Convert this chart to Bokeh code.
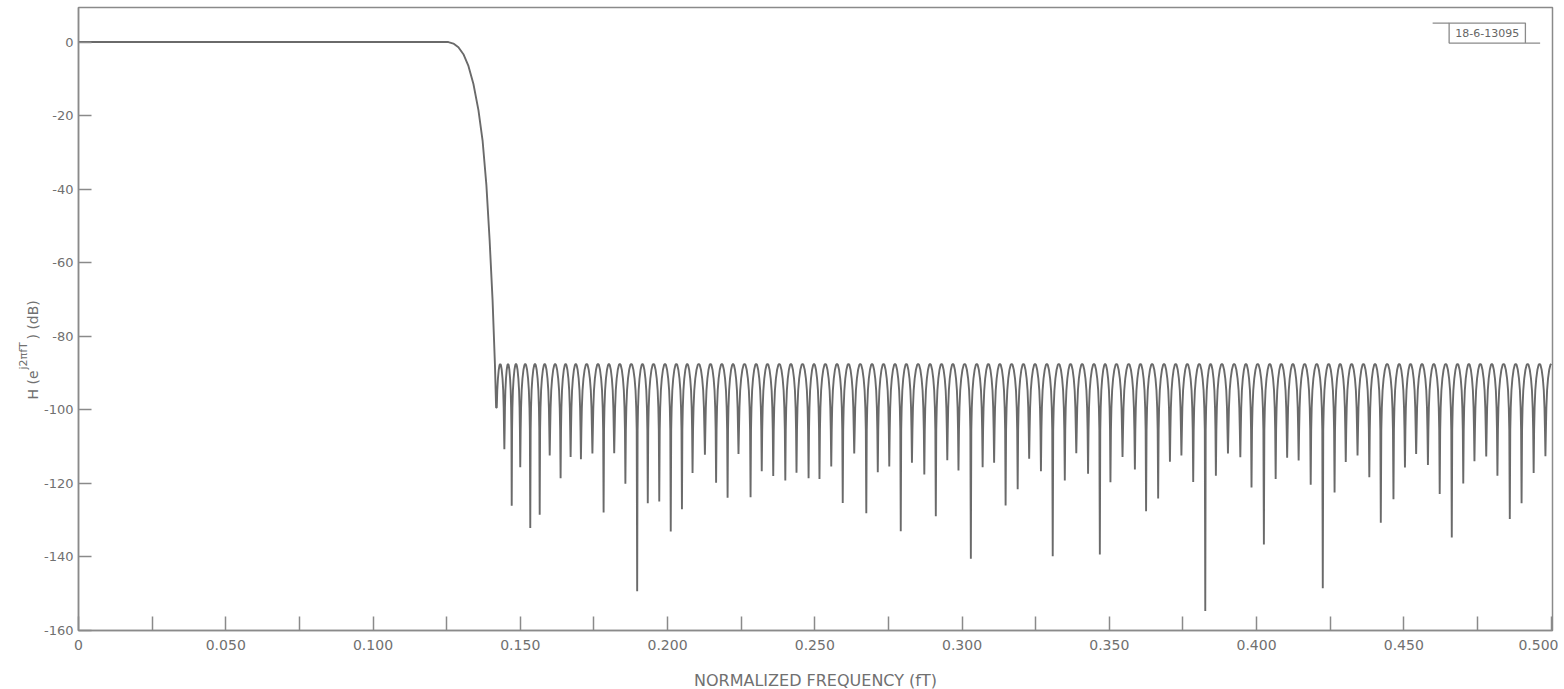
from bokeh.plotting import figure
from bokeh.models import FixedTicker, Label, Range1d
from bokeh.layouts import row
from bokeh.embed import file_html
from bokeh.resources import INLINE

# ---------------- data ----------------
passband_f = [0.0, 0.1256]
passband_db = [0.0, 0.0]

transition_f = [0.1256, 0.1273, 0.1290, 0.1307, 0.1324, 0.1341, 0.1358,
                0.1372, 0.1385, 0.1396, 0.1406, 0.1414]
transition_db = [0.0, -0.4, -1.4, -3.3, -6.5, -11.4, -18.5,
                 -26.7, -38.9, -53.9, -70.2, -87.6]

stop_peak_db = -87.5

null_f = [0.1418, 0.1446, 0.1471, 0.1500, 0.1534, 0.1566, 0.1600, 0.1637,
          0.1671, 0.1706, 0.1745, 0.1783, 0.1819, 0.1857, 0.1897, 0.1933,
          0.1972, 0.2011, 0.2049, 0.2085, 0.2127, 0.2165, 0.2204, 0.2241,
          0.2282, 0.2320, 0.2359, 0.2400, 0.2438, 0.2479, 0.2516, 0.2556,
          0.2595, 0.2634, 0.2675, 0.2714, 0.2753, 0.2792, 0.2830, 0.2872,
          0.2911, 0.2950, 0.2988, 0.3030, 0.3070, 0.3109, 0.3148, 0.3189,
          0.3228, 0.3268, 0.3308, 0.3349, 0.3388, 0.3428, 0.3468, 0.3504,
          0.3545, 0.3587, 0.3625, 0.3666, 0.3706, 0.3745, 0.3785, 0.3826,
          0.3862, 0.3903, 0.3945, 0.3983, 0.4025, 0.4065, 0.4104, 0.4143,
          0.4184, 0.4225, 0.4265, 0.4303, 0.4343, 0.4383, 0.4422, 0.4465,
          0.4504, 0.4542, 0.4582, 0.4622, 0.4663, 0.4702, 0.4740, 0.4780,
          0.4818, 0.4860, 0.4900, 0.4941, 0.4981]
null_db = [-99.4, -110.7, -126.1, -115.6, -132.1, -128.5, -112.4, -118.6,
           -112.8, -113.4, -111.9, -127.9, -111.8, -120.1, -149.3, -125.4,
           -124.9, -133.1, -127.0, -117.2, -112.2, -119.8, -123.9, -112.0,
           -123.8, -116.7, -118.0, -119.2, -117.1, -118.6, -118.8, -115.4,
           -125.3, -111.9, -128.1, -117.0, -115.4, -133.0, -114.4, -117.6,
           -128.9, -113.7, -116.5, -140.5, -115.6, -114.4, -126.0, -121.6,
           -113.3, -116.7, -139.8, -119.2, -111.8, -117.4, -139.3, -119.7,
           -112.8, -116.2, -127.6, -124.1, -114.1, -112.4, -119.6, -154.7,
           -117.9, -111.9, -112.9, -121.1, -136.6, -118.8, -113.0, -113.8,
           -120.4, -148.5, -122.5, -114.2, -112.4, -118.3, -130.7, -124.3,
           -115.7, -112.0, -115.0, -122.9, -134.7, -120.0, -114.0, -112.7,
           -117.9, -129.7, -125.4, -117.2, -112.6]

# shape of one stopband lobe (fraction of lobe width, dB below ripple peak)
lobe_t = [0.04, 0.08, 0.14, 0.22, 0.32, 0.42, 0.50]
lobe_drop = [-18.0, -12.0, -7.2, -4.0, -1.6, -0.3, 0.0]
lobe_width = 0.0040

x_ticks = [0.0, 0.025, 0.05, 0.075, 0.1, 0.125, 0.15, 0.175, 0.2, 0.225,
           0.25, 0.275, 0.3, 0.325, 0.35, 0.375, 0.4, 0.425, 0.45, 0.475, 0.5]
x_tick_labels = ["0", "", "0.050", "", "0.100", "", "0.150", "", "0.200", "",
                 "0.250", "", "0.300", "", "0.350", "", "0.400", "", "0.450",
                 "", "0.500"]
y_ticks = [0, -20, -40, -60, -80, -100, -120, -140, -160]
y_tick_labels = ["0", "-20", "-40", "-60", "-80", "-100", "-120", "-140", "-160"]

x_title = "NORMALIZED FREQUENCY (fT)"
y_title_parts = ["H (e", "j2\u03c0fT", ") (dB)"]
stamp_text = "18-6-13095"

# ---------------- build the response curve ----------------
curve_f = list(passband_f) + list(transition_f[1:])
curve_db = list(passband_db) + list(transition_db[1:])


def half_lobe(a, b, depth_a, depth_b):
    xs, ys = [], []
    for t, d in zip(lobe_t, lobe_drop):
        xs.append(a + t * (b - a))
        ys.append(max(stop_peak_db + d, depth_a))
    for t, d in zip(reversed(lobe_t[:-1]), reversed(lobe_drop[:-1])):
        xs.append(b - t * (b - a))
        ys.append(max(stop_peak_db + d, depth_b))
    return xs, ys


for i in range(len(null_f)):
    curve_f.append(null_f[i])
    curve_db.append(null_db[i])
    if i + 1 < len(null_f):
        xs, ys = half_lobe(null_f[i], null_f[i + 1], null_db[i], null_db[i + 1])
    else:
        b = null_f[i] + lobe_width
        xs, ys = half_lobe(null_f[i], b, null_db[i], -200)
        xs, ys = xs[:len(lobe_t)], ys[:len(lobe_t)]
    curve_f += xs
    curve_db += ys

# ---------------- styles ----------------
GRAY = "#8a8a8a"
TXT = "#707070"
FONT = "DejaVu Sans"
TOTAL_H = 686
LEFT_W = 40

# ---------------- main figure ----------------
p = figure(frame_width=1474, frame_height=623,
           x_range=Range1d(0, 0.5005), y_range=Range1d(-160, 9.4),
           output_backend="svg", toolbar_location=None,
           min_border_left=77 - LEFT_W, min_border_right=6, min_border_top=7,
           min_border_bottom=TOTAL_H - 630)
p.grid.visible = False
p.background_fill_color = "white"
p.border_fill_color = "white"
p.outline_line_color = GRAY
p.outline_line_width = 1.5

p.line(curve_f, curve_db, line_color="#6a6a6a", line_width=1.9)

xa = p.xaxis[0]
xa.ticker = FixedTicker(ticks=x_ticks)
xa.major_label_overrides = {t: l for t, l in zip(x_ticks, x_tick_labels)}
xa.minor_tick_line_color = None
xa.major_tick_in = 14
xa.major_tick_out = 0
xa.major_tick_line_color = GRAY
xa.major_tick_line_width = 1.5
xa.axis_line_color = GRAY
xa.axis_line_width = 1.5
xa.major_label_standoff = 9
xa.major_label_text_font = FONT
xa.major_label_text_font_size = "14px"
xa.major_label_text_color = TXT
xa.axis_label = x_title
xa.axis_label_text_font = FONT
xa.axis_label_text_font_size = "16px"
xa.axis_label_text_font_style = "normal"
xa.axis_label_text_color = TXT
xa.axis_label_standoff = 18

ya = p.yaxis[0]
ya.ticker = FixedTicker(ticks=y_ticks)
ya.major_label_overrides = {t: l for t, l in zip(y_ticks, y_tick_labels)}
ya.minor_tick_line_color = None
ya.major_tick_in = 13
ya.major_tick_out = 0
ya.major_tick_line_color = GRAY
ya.major_tick_line_width = 1.5
ya.axis_line_color = GRAY
ya.axis_line_width = 1.5
ya.major_label_standoff = 5
ya.major_label_text_font = FONT
ya.major_label_text_font_size = "13px"
ya.major_label_text_color = TXT

# drawing number stamp, top right
stamp_left, stamp_right, stamp_bottom, stamp_top = 0.4654, 0.4913, -0.27, 5.17
p.quad(left=[stamp_left], right=[stamp_right], bottom=[stamp_bottom], top=[stamp_top],
       fill_color="white", line_color=GRAY, line_width=1.3)
p.segment(x0=[0.4598, stamp_right], y0=[stamp_top, stamp_bottom],
          x1=[stamp_left, 0.4963], y1=[stamp_top, stamp_bottom],
          line_color=GRAY, line_width=1.3)
p.add_layout(Label(x=(stamp_left + stamp_right) / 2, y=(stamp_top + stamp_bottom) / 2,
                   text=stamp_text, text_align="center", text_baseline="middle",
                   text_font=FONT, text_font_size="11px", text_color="#666666"))

# ---------------- narrow panel carrying the rotated y title ----------------
q = figure(frame_width=LEFT_W, frame_height=TOTAL_H,
           x_range=Range1d(0, LEFT_W), y_range=Range1d(TOTAL_H, 0),
           output_backend="svg", toolbar_location=None,
           x_axis_type=None, y_axis_type=None,
           min_border_left=0, min_border_right=0, min_border_top=0, min_border_bottom=0)
q.grid.visible = False
q.outline_line_color = None
q.background_fill_color = "white"
q.border_fill_color = "white"

ang = 1.5707963
# (x pixel of text centre, y pixel where text starts, size)
for txt, xx, yy, fs in zip(y_title_parts, [32, 23, 32], [392, 362, 332],
                           ["14px", "11px", "14px"]):
    q.add_layout(Label(x=xx, y=yy, text=txt, angle=ang, text_align="left",
                       text_baseline="middle", text_font=FONT,
                       text_font_size=fs, text_color=TXT))

layout = row(q, p, spacing=0)
open("out.html", "w").write(file_html(layout, INLINE))
